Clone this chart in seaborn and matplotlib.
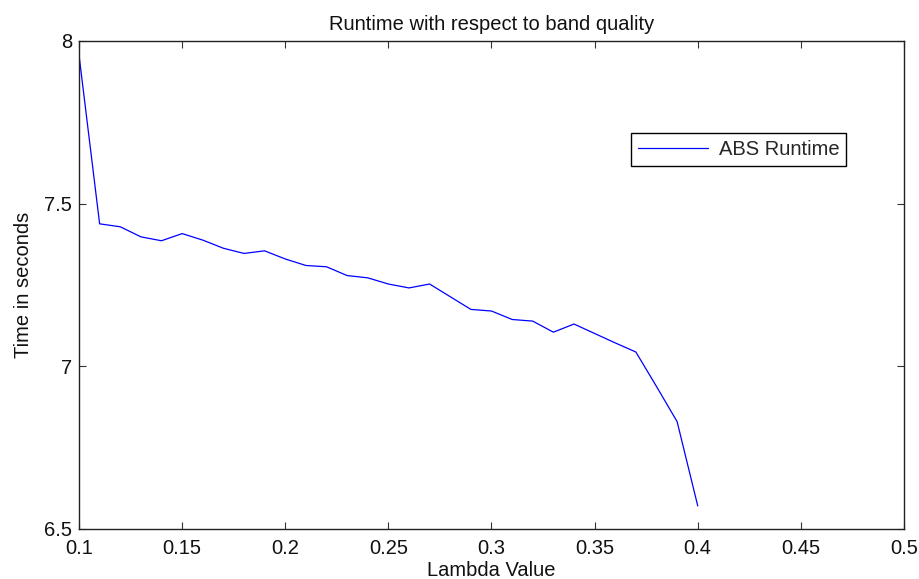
import matplotlib
matplotlib.use("Agg")
import matplotlib.pyplot as plt
import seaborn as sns
import pandas as pd

# Data
lambda_values = [0.10, 0.11, 0.12, 0.13, 0.14, 0.15, 0.16, 0.17, 0.18, 0.19,
                 0.20, 0.21, 0.22, 0.23, 0.24, 0.25, 0.26, 0.27, 0.28, 0.29,
                 0.30, 0.31, 0.32, 0.33, 0.34, 0.35, 0.36, 0.37, 0.38, 0.39,
                 0.40]
abs_runtime = [7.957, 7.438, 7.429, 7.398, 7.386, 7.408, 7.388, 7.363, 7.347, 7.355,
               7.330, 7.310, 7.306, 7.279, 7.272, 7.253, 7.241, 7.253, 7.214, 7.175,
               7.170, 7.144, 7.139, 7.105, 7.130, 7.101, 7.072, 7.044, 6.938, 6.830,
               6.571]
series_name = "ABS Runtime"
x_ticks = [0.1, 0.15, 0.2, 0.25, 0.3, 0.35, 0.4, 0.45, 0.5]
x_tick_labels = ["0.1", "0.15", "0.2", "0.25", "0.3", "0.35", "0.4", "0.45", "0.5"]
y_ticks = [6.5, 7, 7.5, 8]
y_tick_labels = ["6.5", "7", "7.5", "8"]

df = pd.DataFrame({"Lambda": lambda_values, "Runtime": abs_runtime,
                   "Series": [series_name] * len(lambda_values)})

sns.set_theme(style="white")
plt.rcParams["font.family"] = ["Liberation Sans", "DejaVu Sans"]

fs = 14.5
fig = plt.figure(figsize=(9.2, 5.79), dpi=100)
ax = fig.add_axes([79 / 920, 1 - 529 / 579, 825 / 920, 488 / 579])

sns.lineplot(data=df, x="Lambda", y="Runtime", hue="Series",
             palette={series_name: "#0000ff"}, linewidth=0.9, ax=ax)

ax.set_xlim(0.1, 0.5)
ax.set_ylim(6.5, 8)
ax.set_xticks(x_ticks)
ax.set_xticklabels(x_tick_labels)
ax.set_yticks(y_ticks)
ax.set_yticklabels(y_tick_labels)

for s in ax.spines.values():
    s.set_visible(True)
    s.set_color("#222222")
    s.set_linewidth(1.0)

ax.tick_params(axis="both", which="major", direction="in", length=5, width=0.8,
               color="#333333", labelsize=fs, labelcolor="#111111",
               top=True, right=True, bottom=True, left=True)
ax.tick_params(axis="x", pad=7)
ax.tick_params(axis="y", pad=5)

ax.set_xlabel("Lambda Value", fontsize=fs, color="#111111", labelpad=2)
ax.set_ylabel("Time in seconds", fontsize=fs, color="#111111", labelpad=8)
ax.set_title("Runtime with respect to band quality", fontsize=fs, color="#111111", pad=8)

leg = ax.legend(loc="upper left", bbox_to_anchor=(0.669, 0.811), borderaxespad=0,
                fancybox=False, edgecolor="black", framealpha=1, fontsize=fs,
                handlelength=3.5, handletextpad=0.5, borderpad=0.35, title=None)
leg.get_frame().set_linewidth(1.0)

fig.savefig("out.png", dpi=100)
